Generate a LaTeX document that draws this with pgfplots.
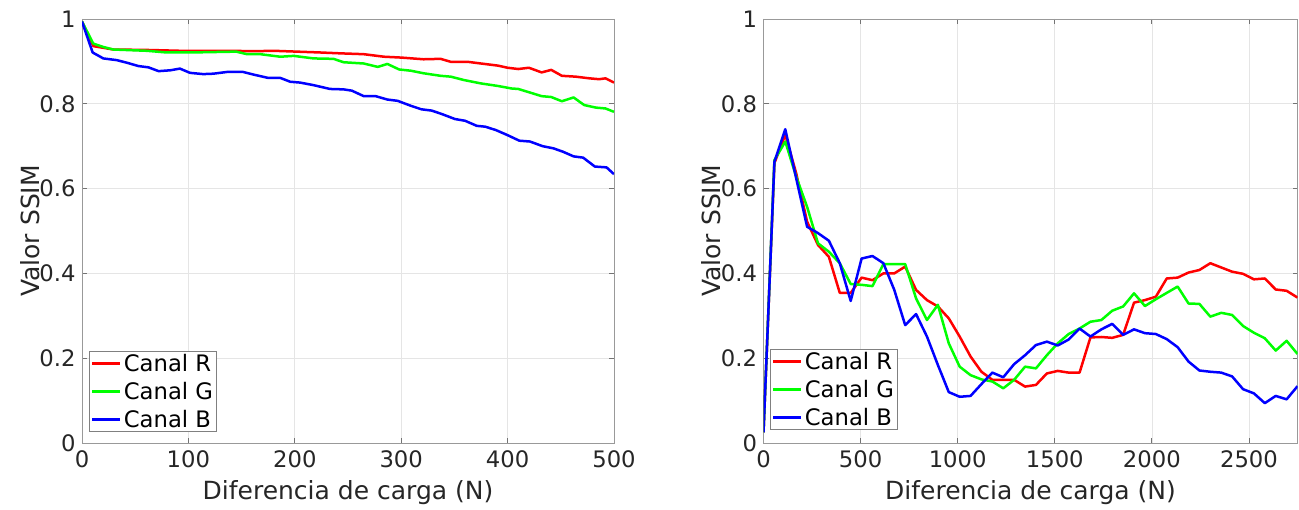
\documentclass[border=0pt]{standalone}
\usepackage{fontspec}
\setmainfont{DejaVu Sans}
\usepackage{pgfplots}
\usepackage{pgfplotstable}
\pgfplotsset{compat=1.18}

% panel izquierdo (0-500 N)
\pgfplotstableread{
x y
0 0.994
10.6 0.936
29.5 0.928
60.8 0.927
92.2 0.925
111 0.925
139 0.925
161 0.924
180 0.925
202 0.923
224 0.921
242.5 0.919
264.8 0.917
283.9 0.911
300 0.909
321 0.905
337 0.906
346.6 0.899
362.5 0.899
375 0.895
391 0.890
400 0.885
410 0.882
420 0.885
432 0.874
441 0.880
451 0.866
464 0.864
477 0.860
486 0.858
492 0.860
500 0.850
}\izqR
\pgfplotstableread{
x y
0 0.994
10.6 0.942
20 0.934
29.5 0.928
60.8 0.925
79.7 0.921
101.5 0.921
145 0.923
155 0.917
167.6 0.917
186.4 0.911
199 0.913
217.6 0.907
236.4 0.906
245.8 0.898
264.8 0.895
278 0.887
287 0.894
298 0.881
309 0.878
321 0.872
337 0.866
346.6 0.864
359 0.856
375 0.848
391 0.842
404 0.836
410 0.835
423 0.825
432 0.818
441 0.816
451 0.806
462 0.815
472 0.797
483 0.791
492 0.789
500 0.781
}\izqG
\pgfplotstableread{
x y
0 0.994
10 0.921
20 0.907
32.6 0.903
42 0.897
53 0.889
62.4 0.886
72 0.877
83 0.879
92 0.883
101.5 0.873
114 0.870
123.5 0.871
136 0.875
151.6 0.875
161 0.869
175 0.861
186.4 0.861
195.7 0.852
205 0.850
217.6 0.844
233 0.835
245.8 0.834
253.6 0.831
264.8 0.818
276 0.818
287 0.810
296.6 0.807
309.4 0.795
319 0.787
328.6 0.784
338 0.776
350.6 0.764
360 0.760
371 0.748
379 0.746
389 0.738
400 0.726
411 0.713
421 0.711
433 0.700
443 0.695
452 0.687
462 0.676
471 0.673
482 0.652
493 0.650
500 0.634
}\izqB

% panel derecho (0-2750 N)
\pgfplotstableread{
x R G B
0 0.025 0.025 0.025
56.1 0.660 0.667 0.663
112.2 0.727 0.711 0.740
168.4 0.636 0.628 0.624
224.5 0.522 0.557 0.510
280.6 0.467 0.471 0.495
336.7 0.439 0.451 0.477
392.9 0.354 0.424 0.424
449.0 0.354 0.375 0.335
505.1 0.390 0.373 0.435
561.2 0.384 0.370 0.441
617.3 0.400 0.422 0.424
673.5 0.400 0.422 0.361
729.6 0.416 0.422 0.278
785.7 0.361 0.341 0.304
841.8 0.337 0.290 0.251
898.0 0.322 0.326 0.184
954.1 0.294 0.235 0.120
1010.2 0.251 0.180 0.109
1066.3 0.204 0.160 0.111
1122.4 0.168 0.150 0.139
1178.6 0.149 0.145 0.166
1234.7 0.149 0.129 0.155
1290.8 0.149 0.149 0.186
1346.9 0.133 0.180 0.207
1403.1 0.137 0.176 0.231
1459.2 0.164 0.207 0.239
1515.3 0.170 0.235 0.230
1571.4 0.166 0.257 0.244
1627.6 0.166 0.270 0.270
1683.7 0.249 0.286 0.251
1739.8 0.250 0.290 0.268
1795.9 0.248 0.312 0.281
1852.0 0.255 0.322 0.255
1908.2 0.331 0.353 0.268
1964.3 0.337 0.323 0.259
2020.4 0.345 0.339 0.257
2076.5 0.388 0.354 0.245
2132.7 0.390 0.369 0.226
2188.8 0.402 0.329 0.192
2244.9 0.408 0.328 0.171
2301.0 0.424 0.298 0.168
2357.1 0.414 0.307 0.166
2413.3 0.404 0.302 0.157
2469.4 0.399 0.276 0.127
2525.5 0.386 0.260 0.117
2581.6 0.388 0.247 0.094
2637.8 0.362 0.218 0.111
2693.9 0.359 0.241 0.103
2750 0.343 0.210 0.134
}\der

\pgfplotsset{ssim/.style={
  scale only axis, height=424pt,
  ymin=0, ymax=1, ytick={0,0.2,0.4,0.6,0.8,1},
  grid=major, major grid style={black!10, line width=0.7pt},
  axis line style={black!40, line width=0.8pt},
  tick align=inside, major tick length=5pt, tick style={black!55, line width=0.8pt},
  ticklabel style={font=\fontsize{22.7}{27}\selectfont, text=black!85},
  xticklabel style={yshift=-4pt},
  yticklabel style={xshift=-3pt},
  label style={font=\fontsize{25}{30}\selectfont, text=black!85},
  /pgf/number format/assume math mode=true,
  /pgf/number format/set thousands separator={},
  ylabel={Valor SSIM}, xlabel={Diferencia de carga (N)},
  xlabel style={at={(axis description cs:0.5,-0.118)}, anchor=center},
  ylabel style={at={(axis description cs:-0.098,0.5)}, anchor=center},
  every axis plot/.append style={line width=2.5pt, line join=round},
  legend style={font=\fontsize{22.7}{27}\selectfont, draw=black!50, line width=0.8pt,
    inner sep=1pt, row sep=5pt, anchor=north west},
  legend cell align=left,
  legend image code/.code={\draw[line width=3pt] (0pt,0pt) -- (28pt,0pt);},
}}

\begin{document}
\begin{tikzpicture}
\useasboundingbox (0pt,0pt) rectangle (1299pt,510pt);

\begin{axis}[ssim, at={(82pt,67pt)}, anchor=south west, width=532pt,
  xmin=0, xmax=500, xtick={0,100,200,300,400,500},
  legend style={at={(axis description cs:0.014,0.217)}}]
\addplot[red] table[x=x,y=y] {\izqR};
\addplot[green] table[x=x,y=y] {\izqG};
\addplot[blue] table[x=x,y=y] {\izqB};
\legend{Canal R, Canal G, Canal B}
\end{axis}

\begin{axis}[ssim, at={(763.5pt,67pt)}, anchor=south west, width=534pt,
  xmin=0, xmax=2750, xtick={0,500,1000,1500,2000,2500},
  legend style={at={(axis description cs:0.013,0.222)}}]
\addplot[red] table[x=x,y=R] {\der};
\addplot[green] table[x=x,y=G] {\der};
\addplot[blue] table[x=x,y=B] {\der};
\legend{Canal R, Canal G, Canal B}
\end{axis}
\end{tikzpicture}
\end{document}
